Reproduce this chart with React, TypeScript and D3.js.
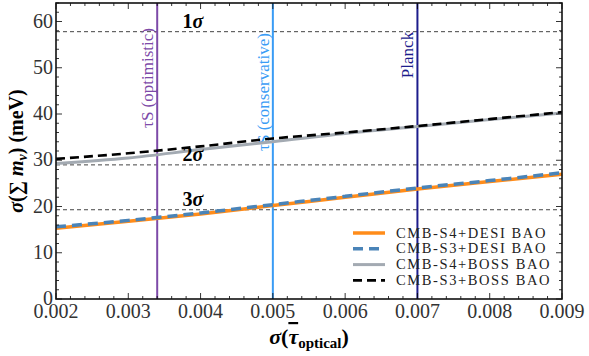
import React from 'react';
import * as d3 from 'd3';

// sigma(tau) grid and sigma(sum m_nu) in meV for each forecast
const tauValues = [0.002, 0.003, 0.004, 0.005, 0.006, 0.007, 0.008, 0.009];
const s4Desi = [15.3, 16.8, 18.4, 20.2, 22.0, 23.8, 25.4, 27.0];
const s3Desi = [15.6, 17.0, 18.6, 20.4, 22.2, 24.0, 25.6, 27.3];
const s4Boss = [29.3, 30.5, 32.3, 34.0, 35.8, 37.3, 38.8, 40.2];
const s3Boss = [30.3, 31.5, 33.0, 34.7, 36.0, 37.4, 38.9, 40.4];

const sigmaLevels = [57.8, 29.0, 19.3];
const sigmaNames = ['1', '2', '3'];

const tauMarks = [0.0034, 0.005, 0.007];
const tauMarkNames = ['\u03c4S (optimistic)', '\u03c4S (conservative)', 'Planck'];

const xTicks = [0.002, 0.003, 0.004, 0.005, 0.006, 0.007, 0.008, 0.009];
const yTicks = [0, 10, 20, 30, 40, 50, 60];

const width = 589;
const height = 356;
const margin = { top: 3, right: 27, bottom: 57, left: 56 };

const App = () => {
  const x = d3.scaleLinear().domain([0.002, 0.009]).range([margin.left, width - margin.right]);
  const y = d3.scaleLinear().domain([0, 64]).range([height - margin.bottom, margin.top]);

  const line = d3.line<number>()
    .x((_, i) => x(tauValues[i]))
    .y(d => y(d))
    .curve(d3.curveMonotoneX);

  const series = [
    { name: 'CMB-S4+DESI BAO', values: s4Desi, color: '#ff8c1a', width: 3.5, dash: null },
    { name: 'CMB-S3+DESI BAO', values: s3Desi, color: '#4a84b8', width: 3.5, dash: '10,6' },
    { name: 'CMB-S4+BOSS BAO', values: s4Boss, color: '#a3aab2', width: 3, dash: null },
    { name: 'CMB-S3+BOSS BAO', values: s3Boss, color: '#000000', width: 2.6, dash: '9,5' },
  ];

  const markColors = ['#7d4aa8', '#3a9cf5', '#1c1c8c'];
  // label centers along the vertical lines (rotated text)
  const markLabelY = [78, 92, 55];

  const xMinor = d3.range(0.002, 0.00901, 0.0002);
  const yMinor = d3.range(0, 64.01, 2);
  const serif = "'Liberation Serif', 'DejaVu Serif', 'Times New Roman', serif";

  const plotLeft = margin.left;
  const plotRight = width - margin.right;
  const plotTop = margin.top;
  const plotBottom = height - margin.bottom;

  return (
    <svg width={width} height={height}
      style={{ position: 'absolute', left: 0, top: 0, background: '#fff', fontFamily: serif }}>
      {/* sigma reference lines */}
      {sigmaLevels.map((s, i) => (
        <line key={'s' + i} x1={plotLeft} x2={plotRight} y1={y(s)} y2={y(s)}
          stroke="#444" strokeWidth={1} strokeDasharray="4,3" />
      ))}

      {/* vertical tau markers */}
      {tauMarks.map((t, i) => (
        <g key={'m' + i}>
          <line x1={x(t)} x2={x(t)} y1={plotTop} y2={plotBottom} stroke={markColors[i]} strokeWidth={2} />
          <text transform={`translate(${x(t) - 4},${markLabelY[i]}) rotate(-90)`} textAnchor="middle"
            fontSize={17} fill={markColors[i]} style={{ fontFamily: serif }}>{tauMarkNames[i]}</text>
        </g>
      ))}

      {/* curves */}
      {series.map(s => (
        <path key={s.name} d={line(s.values) || ''} fill="none" stroke={s.color} strokeWidth={s.width}
          strokeDasharray={s.dash || undefined} />
      ))}

      {/* sigma labels */}
      {sigmaLevels.map((s, i) => (
        <text key={'sl' + i} x={193} y={y(s) - 4} textAnchor="middle" fontSize={20} fontWeight="bold"
          style={{ fontFamily: serif }}>
          {sigmaNames[i]}<tspan fontStyle="italic">σ</tspan>
        </text>
      ))}

      {/* frame ticks */}
      {xMinor.map((t, i) => {
        const major = xTicks.some(v => Math.abs(v - t) < 1e-9);
        const len = major ? 6 : 3;
        return (
          <g key={'xt' + i} stroke="#000" strokeWidth={0.8}>
            <line x1={x(t)} x2={x(t)} y1={plotBottom} y2={plotBottom - len} />
            <line x1={x(t)} x2={x(t)} y1={plotTop} y2={plotTop + len} />
          </g>
        );
      })}
      {yMinor.map((v, i) => {
        const major = v % 10 === 0;
        const len = major ? 6 : 3;
        return (
          <g key={'yt' + i} stroke="#000" strokeWidth={0.8}>
            <line x1={plotLeft} x2={plotLeft + len} y1={y(v)} y2={y(v)} />
            <line x1={plotRight} x2={plotRight - len} y1={y(v)} y2={y(v)} />
          </g>
        );
      })}
      <rect x={plotLeft} y={plotTop} width={plotRight - plotLeft} height={plotBottom - plotTop}
        fill="none" stroke="#111" strokeWidth={1.6} />

      {/* tick labels */}
      {xTicks.map(t => (
        <text key={'xl' + t} x={x(t)} y={plotBottom + 19} textAnchor="middle" fontSize={20} fill="#333"
          style={{ fontFamily: serif }}>
          {d3.format('.3f')(t)}
        </text>
      ))}
      {yTicks.map(v => (
        <text key={'yl' + v} x={plotLeft - 3} y={y(v) + 6} textAnchor="end" fontSize={20} fill="#333"
          style={{ fontFamily: serif }}>{v}</text>
      ))}

      {/* axis titles */}
      <text transform={`translate(23,${(plotTop + plotBottom) / 2}) rotate(-90)`} textAnchor="middle"
        fontSize={20} fontWeight="bold" style={{ fontFamily: serif }}>
        <tspan fontStyle="italic">σ</tspan>(∑ <tspan fontStyle="italic">m</tspan>
        <tspan fontStyle="italic" fontSize={14} dy={4}>ν</tspan><tspan dy={-4}>) (meV)</tspan>
      </text>
      <text x={309} y={344} textAnchor="middle" fontSize={22} fontWeight="bold" style={{ fontFamily: serif }}>
        <tspan fontStyle="italic">σ</tspan>(<tspan fontStyle="italic" textDecoration="overline">τ</tspan>
        <tspan fontSize={15} dy={4}>optical</tspan><tspan dy={-4}>)</tspan>
      </text>

      {/* legend */}
      {series.map((s, i) => {
        const ly = 233 + i * 15.8;
        return (
          <g key={'lg' + i}>
            <line x1={353} x2={385} y1={ly} y2={ly} stroke={s.color} strokeWidth={s.width}
              strokeDasharray={s.dash || undefined} />
            <text x={396} y={ly + 4.5} fontSize={14.5} letterSpacing={1.6} fill="#222"
              style={{ fontFamily: serif }}>{s.name}</text>
          </g>
        );
      })}
    </svg>
  );
};

export default App;
